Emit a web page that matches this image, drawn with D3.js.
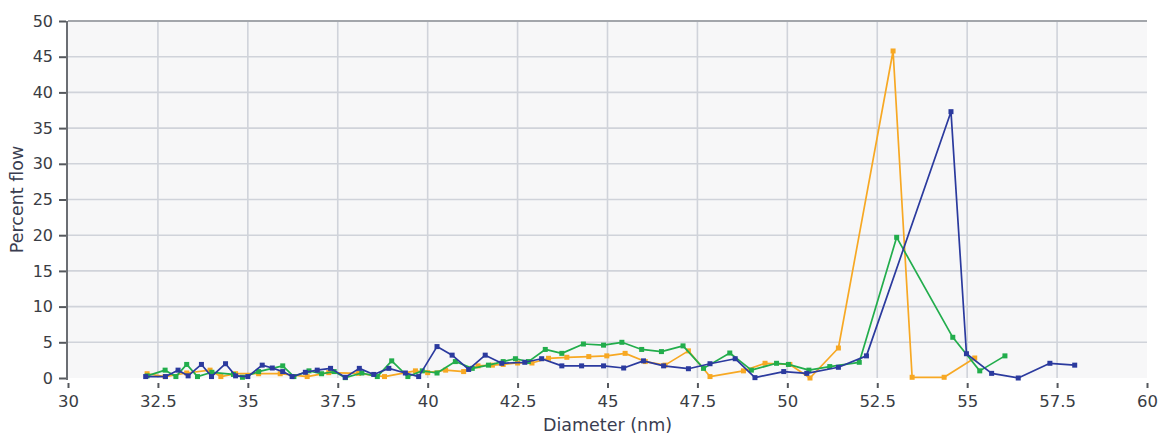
<!DOCTYPE html>
<html>
<head>
<meta charset="utf-8">
<script src="https://cdn.jsdelivr.net/npm/d3@7/dist/d3.min.js"></script>
<style>
  html, body { margin: 0; padding: 0; background: #ffffff; }
  svg { display: block; font-family: Verdana, "DejaVu Sans", sans-serif; }
</style>
</head>
<body>
<svg id="chart" width="1160" height="436"></svg>
<script>
// Particle size distributions: percent of flow per diameter bin (nm)
const orangeDiameter = [32.2, 32.7, 33.3, 33.95, 34.25, 34.66, 35.3, 35.9, 36.65, 37.25, 38.08, 38.8, 39.66, 40.0, 40.5, 41.0, 41.4, 41.8, 42.1, 42.5, 42.9, 43.36, 43.87, 44.48, 44.98, 45.49, 46.05, 46.6, 47.25, 47.85, 48.78, 49.38, 50.07, 50.63, 51.42, 52.94, 53.47, 54.36, 55.21];
const orangeFlow     = [0.6, 0.2, 0.7, 1.1, 0.2, 0.6, 0.6, 0.6, 0.2, 0.75, 0.65, 0.2, 1.0, 0.75, 1.1, 0.9, 1.7, 1.8, 1.9, 2.1, 2.1, 2.76, 2.9, 3.0, 3.1, 3.45, 2.3, 1.8, 3.8, 0.2, 1.0, 2.06, 1.9, 0.0, 4.2, 45.8, 0.1, 0.1, 2.8];

const greenDiameter = [32.2, 32.7, 33.0, 33.3, 33.6, 34.0, 34.6, 34.85, 35.3, 35.97, 36.28, 36.7, 37.05, 37.4, 37.71, 38.17, 38.6, 39.0, 39.45, 39.85, 40.26, 40.77, 41.24, 41.69, 42.1, 42.44, 42.8, 43.27, 43.73, 44.33, 44.89, 45.4, 45.95, 46.5, 47.1, 47.67, 48.4, 49.0, 49.7, 50.03, 50.6, 51.18, 52.0, 53.04, 54.6, 55.35, 56.05];
const greenFlow     = [0.3, 1.1, 0.2, 1.9, 0.2, 0.8, 0.5, 0.1, 0.9, 1.7, 0.2, 1.0, 0.6, 0.9, 0.05, 0.7, 0.2, 2.4, 0.2, 1.0, 0.7, 2.3, 1.35, 1.8, 2.3, 2.7, 2.3, 4.0, 3.45, 4.76, 4.6, 5.0, 4.0, 3.7, 4.5, 1.35, 3.5, 1.1, 2.06, 1.9, 1.1, 1.6, 2.2, 19.7, 5.7, 1.0, 3.1];

const blueDiameter = [32.16, 32.71, 33.06, 33.34, 33.71, 33.99, 34.38, 34.66, 35.0, 35.4, 35.68, 35.97, 36.23, 36.6, 36.93, 37.3, 37.71, 38.1, 38.5, 38.92, 39.38, 39.75, 40.26, 40.68, 41.14, 41.6, 42.06, 42.7, 43.17, 43.73, 44.28, 44.89, 45.45, 46.0, 46.56, 47.25, 47.85, 48.55, 49.1, 49.9, 50.54, 51.42, 52.2, 54.55, 54.98, 55.68, 56.42, 57.3, 57.99];
const blueFlow     = [0.2, 0.2, 1.1, 0.3, 1.9, 0.2, 2.0, 0.3, 0.2, 1.8, 1.4, 0.9, 0.2, 0.8, 1.1, 1.35, 0.1, 1.35, 0.5, 1.35, 0.7, 0.2, 4.4, 3.2, 1.2, 3.2, 2.06, 2.2, 2.7, 1.7, 1.7, 1.7, 1.4, 2.4, 1.7, 1.3, 2.0, 2.7, 0.05, 0.9, 0.65, 1.5, 3.1, 37.3, 3.4, 0.65, 0.0, 2.06, 1.8];

const seriesNames  = ["orange", "green", "blue"];
const seriesColors = ["#f7a823", "#22ad4c", "#2b3a9e"];

const xTicks = [30, 32.5, 35, 37.5, 40, 42.5, 45, 47.5, 50, 52.5, 55, 57.5, 60];
const yTicks = [0, 5, 10, 15, 20, 25, 30, 35, 40, 45, 50];

const series = [
  { name: seriesNames[0], color: seriesColors[0], x: orangeDiameter, y: orangeFlow },
  { name: seriesNames[1], color: seriesColors[1], x: greenDiameter,  y: greenFlow },
  { name: seriesNames[2], color: seriesColors[2], x: blueDiameter,   y: blueFlow }
];

const svg = d3.select("#chart");
const margin = { left: 68, right: 13, top: 21, bottom: 58 };
const W = 1160, H = 436;
const innerW = W - margin.left - margin.right;
const innerH = H - margin.top - margin.bottom;

const x = d3.scaleLinear().domain([30, 60]).range([margin.left, margin.left + innerW]);
const y = d3.scaleLinear().domain([0, 50]).range([margin.top + innerH, margin.top]);

// plot background
svg.append("rect")
  .attr("x", margin.left).attr("y", margin.top)
  .attr("width", innerW).attr("height", innerH)
  .attr("fill", "#f7f7f8");

// grid
const grid = svg.append("g");
grid.selectAll("line.v").data(xTicks.slice(1, -1)).join("line")
  .attr("x1", d => x(d)).attr("x2", d => x(d))
  .attr("y1", margin.top).attr("y2", margin.top + innerH)
  .attr("stroke", "#d0d3da").attr("stroke-width", 1.6);
grid.selectAll("line.h").data(yTicks.slice(1, -1)).join("line")
  .attr("x1", margin.left).attr("x2", margin.left + innerW)
  .attr("y1", d => y(d)).attr("y2", d => y(d))
  .attr("stroke", "#d0d3da").attr("stroke-width", 1.6);

// top border
svg.append("line")
  .attr("x1", margin.left).attr("x2", margin.left + innerW)
  .attr("y1", y(50)).attr("y2", y(50))
  .attr("stroke", "#a3a6ab").attr("stroke-width", 2);

// left axis
const yAxis = d3.axisLeft(y).tickValues(yTicks).tickSize(8).tickPadding(6).tickFormat(d3.format("d"));
const gy = svg.append("g").attr("transform", `translate(${margin.left - 1},0)`).call(yAxis);
gy.select(".domain").attr("stroke", "#6b6e73").attr("stroke-width", 2).attr("d", `M0,${y(50)}V${y(0) + 2}`);
gy.selectAll(".tick line").attr("stroke", "#55585d").attr("stroke-width", 2).attr("x1", -1);
gy.selectAll(".tick text").attr("fill", "#3a3d44").style("font-size", "16px")
  .style("font-family", "Verdana, 'DejaVu Sans', sans-serif");

// bottom axis ticks (detached from the plot)
const xAxis = d3.axisBottom(x).tickValues(xTicks).tickSize(5).tickPadding(7).tickFormat(d => String(d));
const gx = svg.append("g").attr("transform", `translate(0,${y(0) + 5})`).call(xAxis);
gx.select(".domain").remove();
gx.selectAll(".tick line").attr("stroke", "#55585d").attr("stroke-width", 2);
gx.selectAll(".tick text").attr("fill", "#3a3d44").style("font-size", "16.5px")
  .style("font-family", "Verdana, 'DejaVu Sans', sans-serif");

// axis titles
svg.append("text")
  .attr("x", x(45)).attr("y", 431)
  .attr("text-anchor", "middle")
  .attr("fill", "#3a3d50")
  .style("font-size", "17.5px")
  .text("Diameter (nm)");
svg.append("text")
  .attr("transform", `translate(23,${y(25)}) rotate(-90)`)
  .attr("text-anchor", "middle")
  .attr("fill", "#3a3d50")
  .style("font-size", "17.5px")
  .text("Percent flow");

// series lines and square markers
const line = d3.line().x(d => x(d[0])).y(d => y(d[1]));
series.forEach(s => {
  const pts = s.x.map((d, i) => [d, s.y[i]]);
  const g = svg.append("g");
  g.append("path").datum(pts)
    .attr("d", line)
    .attr("fill", "none")
    .attr("stroke", s.color)
    .attr("stroke-width", 1.7)
    .attr("stroke-linejoin", "round");
  g.selectAll("rect").data(pts).join("rect")
    .attr("x", d => x(d[0]) - 2.5).attr("y", d => y(d[1]) - 2.5)
    .attr("width", 5).attr("height", 5)
    .attr("fill", s.color);
});
</script>
</body>
</html>
